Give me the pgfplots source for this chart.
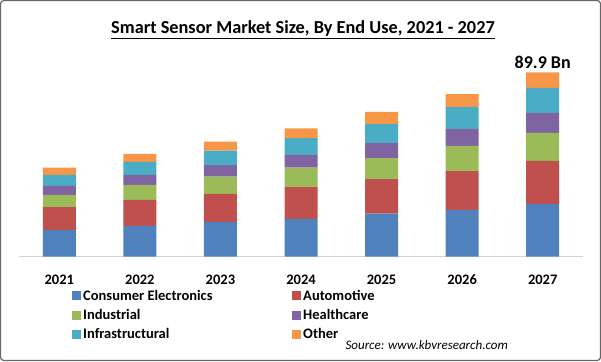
\documentclass[border=0pt]{standalone}
\usepackage{fontspec}
\setmainfont{Carlito}
\usepackage{pgfplots}
\pgfplotsset{compat=1.18}
\definecolor{cBlue}{HTML}{4F81BD}
\definecolor{cRed}{HTML}{C0504D}
\definecolor{cGreen}{HTML}{9BBB59}
\definecolor{cPurple}{HTML}{8064A2}
\definecolor{cCyan}{HTML}{4BACC6}
\definecolor{cOrange}{HTML}{F79646}
\begin{document}
\begin{tikzpicture}[x=1pt,y=1pt]
\useasboundingbox (0,0) rectangle (601,361);
\draw[gray!80!black, line width=1.2pt, rounded corners=3pt] (0.6,0.6) rectangle (600.4,360.4);
\node[font=\bfseries\fontsize{18.3}{20}\selectfont, anchor=base] at (303,327) {\underline{Smart Sensor Market Size, By End Use, 2021 - 2027}};
\begin{axis}[
  at={(19pt,104.3pt)}, anchor=south west,
  scale only axis, width=564pt, height=205pt,
  ymin=0, ymax=100, xmin=-0.5, xmax=6.5,
  ybar stacked, bar width=33pt,
  axis x line=bottom, axis y line=none,
  x axis line style={-, draw=gray!35, line width=1pt},
  xtick={0,1,2,3,4,5,6},
  xticklabels={2021,2022,2023,2024,2025,2026,2027},
  xtick style={draw=none},
  xticklabel style={font=\bfseries\fontsize{14.5}{16}\selectfont, anchor=base, yshift=-26pt},
  ytick=\empty,
  clip=false,
  legend columns=2,
  legend cell align=left,
  legend style={draw=none, fill=none, inner sep=0pt, at={(0.094,-0.152)}, anchor=north west,
    font=\bfseries\fontsize{14.5}{16}\selectfont,
    /tikz/every even column/.style={column sep=2pt},
    row sep=3.5pt},
  legend image code/.code={\fill[#1] (0pt,-4.5pt) rectangle (9pt,4.5pt);},
]
\addplot+[draw=none, fill=cBlue] coordinates {(0,13.0) (1,15.0) (2,16.9) (3,18.4) (4,21.0) (5,22.8) (6,25.7)};
\addlegendentry{\makebox[205pt][l]{Consumer Electronics}}
\addplot+[draw=none, fill=cRed] coordinates {(0,11.2) (1,12.7) (2,13.7) (3,15.6) (4,16.9) (5,19.0) (6,21.0)};
\addlegendentry{Automotive}
\addplot+[draw=none, fill=cGreen] coordinates {(0,5.9) (1,7.3) (2,8.4) (3,9.4) (4,10.2) (5,12.2) (6,13.7)};
\addlegendentry{\makebox[205pt][l]{Industrial}}
\addplot+[draw=none, fill=cPurple] coordinates {(0,4.4) (1,4.9) (2,5.7) (3,6.2) (4,7.3) (5,8.3) (6,9.8)};
\addlegendentry{Healthcare}
\addplot+[draw=none, fill=cCyan] coordinates {(0,5.4) (1,6.3) (2,7.0) (3,8.3) (4,9.3) (5,10.7) (6,12.2)};
\addlegendentry{\makebox[205pt][l]{Infrastructural}}
\addplot+[draw=none, fill=cOrange] coordinates {(0,3.6) (1,3.9) (2,4.4) (3,4.7) (4,5.9) (5,6.3) (6,7.5)};
\addlegendentry{Other}
\node[font=\bfseries\fontsize{18}{20}\selectfont, anchor=base] at (axis cs:6,89.9) [yshift=4pt] {89.9 Bn};
\end{axis}
\node[font=\itshape\fontsize{13}{15}\selectfont, anchor=base west] at (342,12) {Source: www.kbvresearch.com};
\end{tikzpicture}
\end{document}
